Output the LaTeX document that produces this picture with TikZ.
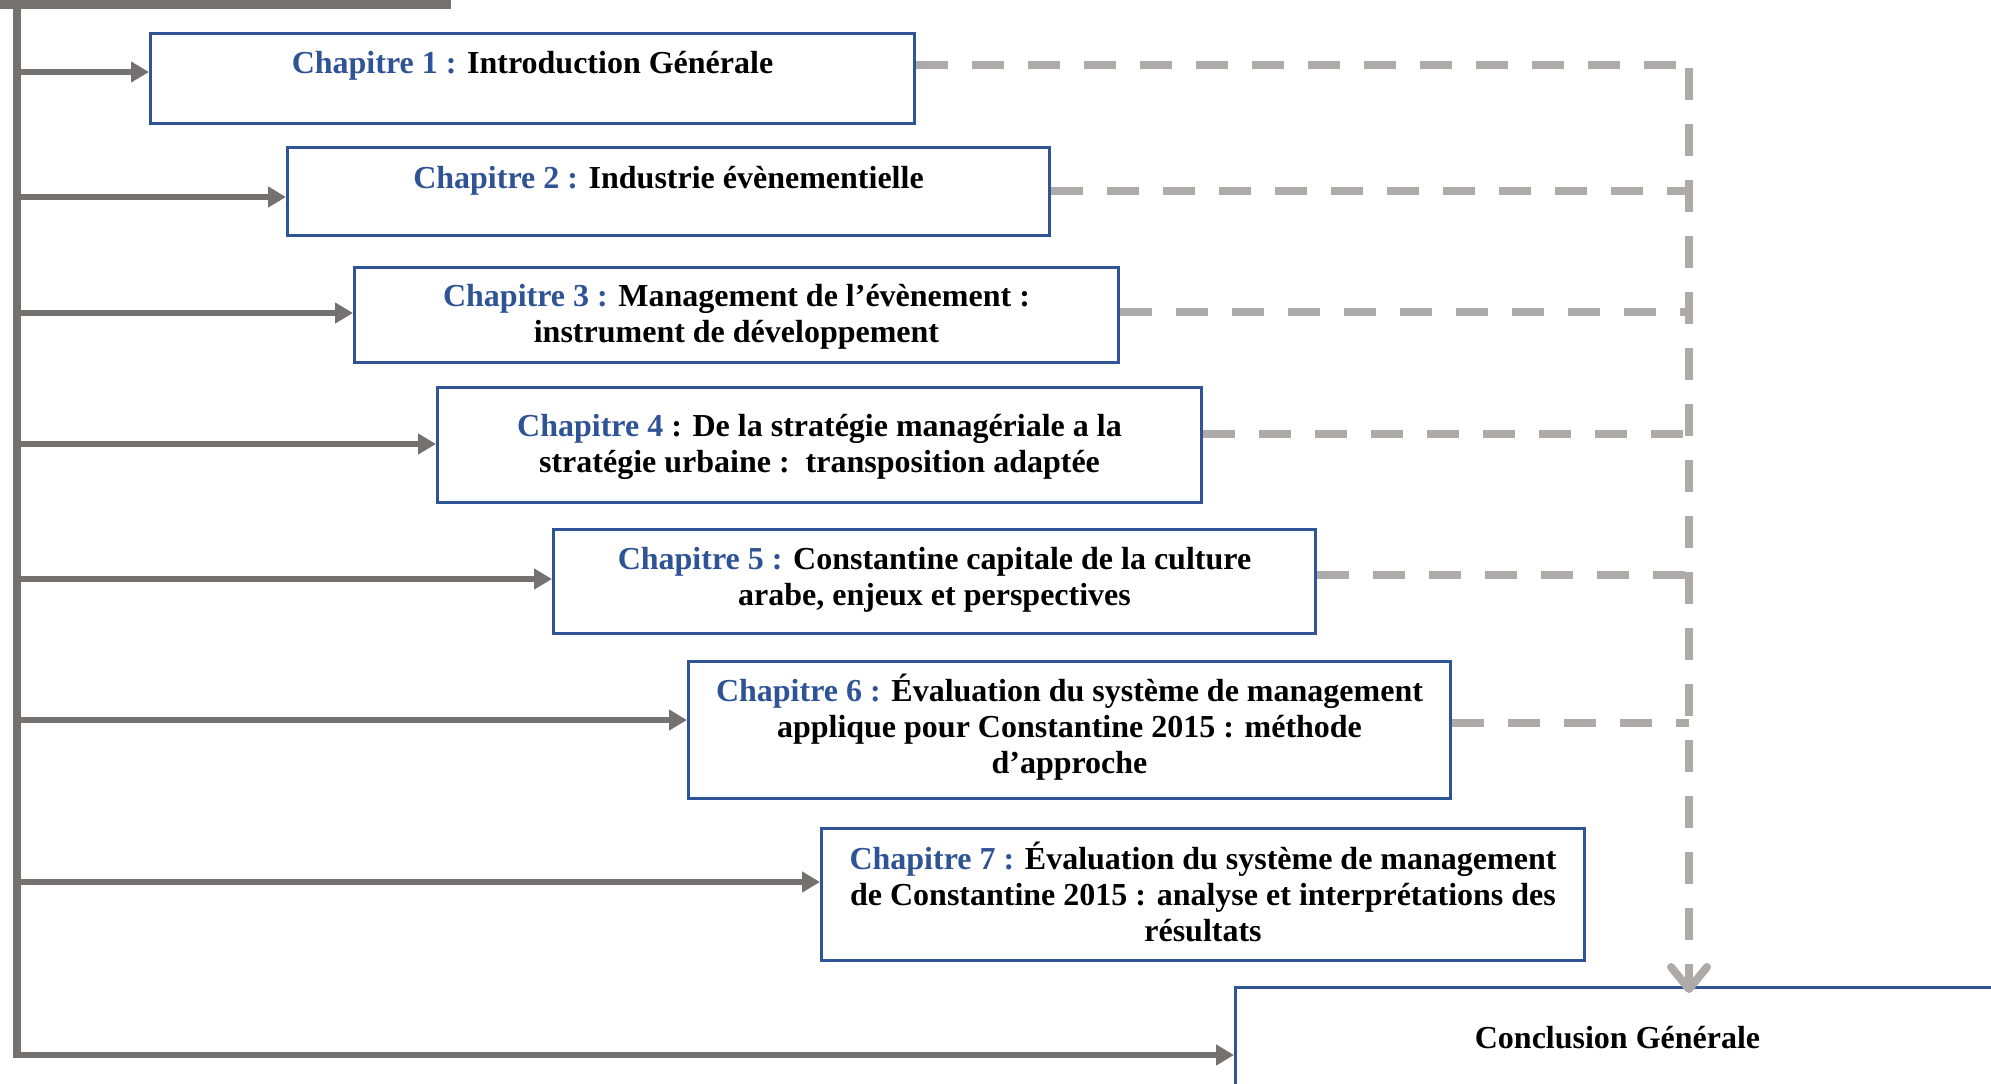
\documentclass[tikz,border=0pt]{standalone}
\usepackage{fontspec}
\setmainfont{Liberation Serif}
\usetikzlibrary{arrows.meta,calc}

\definecolor{chapblue}{RGB}{47,84,150}
\definecolor{boxblue}{RGB}{47,85,151}
\definecolor{trunkgray}{RGB}{118,113,113}
\definecolor{dashgray}{RGB}{174,170,170}

\tikzset{
  chapbox/.style={draw=boxblue, line width=1.5pt, fill=white, rectangle,
    anchor=north west, inner sep=0pt, minimum width=382pt},
  chaptext/.style={anchor=base, align=center, inner sep=0pt,
    font=\fontsize{16}{18.1}\selectfont\bfseries},
  feed/.style={draw=trunkgray, line width=3.25pt,
    -{Triangle[length=9pt,width=10pt]}},
  trunk/.style={draw=trunkgray, line width=4pt},
  back/.style={draw=dashgray, line width=4pt, dash pattern=on 16pt off 12pt},
}
\newcommand{\chap}[1]{\textcolor{chapblue}{#1}}

\begin{document}
\begin{tikzpicture}[x=0.5pt,y=-0.5pt]
  \useasboundingbox (0,0) rectangle (1991,1083);
  \clip (0,0) rectangle (1991,1083);

  % chapter boxes
  \node[chapbox, minimum height=45pt]   (b1) at (149,32)  {};
  \node[chapbox, minimum height=44pt, minimum width=381pt] (b2) at (286,146) {};
  \node[chapbox, minimum height=47.5pt] (b3) at (353,266) {};
  \node[chapbox, minimum height=57.5pt] (b4) at (436,386) {};
  \node[chapbox, minimum height=52pt, minimum width=381pt] (b5) at (552,528) {};
  \node[chapbox, minimum height=68.5pt, minimum width=381pt] (b6) at (687,660) {};
  \node[chapbox, minimum height=66pt, minimum width=381.5pt] (b7) at (820,827) {};
  \node[chapbox, minimum height=75pt]   (cg) at (1234,986) {};

  % chapter titles (the base anchor sits on the last line)
  \node[chaptext] (t1) at ([yshift=-20.5pt]b1.north)
    {\chap{Chapitre 1 :} Introduction Générale};
  \node[chaptext] (t2) at ([yshift=-21pt]b2.north)
    {\chap{Chapitre 2 :} Industrie évènementielle};
  \node[chaptext] (t3) at ([yshift=-38.3pt]b3.north)
    {\chap{Chapitre 3 :} Management de l’évènement :\\ instrument de développement};
  \node[chaptext] (t4) at ([yshift=-43.3pt]b4.north)
    {\chap{Chapitre 4} : De la stratégie managériale a la\\ stratégie urbaine :\ \ transposition adaptée};
  \node[chaptext] (t5) at ([yshift=-38.6pt]b5.north)
    {\chap{Chapitre 5 :} Constantine capitale de la culture\\ arabe, enjeux et perspectives};
  \node[chaptext] (t6) at ([yshift=-56.7pt]b6.north)
    {\chap{Chapitre 6 :} Évaluation du système de management\\ applique pour Constantine 2015 : méthode\\ d’approche};
  \node[chaptext] (t7) at ([yshift=-57.2pt]b7.north)
    {\chap{Chapitre 7 :} Évaluation du système de management\\ de Constantine 2015 : analyse et interprétations des\\ résultats};
  \node[chaptext] (tc) at ([yshift=-31pt]cg.north) {Conclusion Générale};

  % left trunk and its branches
  \coordinate (top) at (17,0);
  \coordinate (lip) at (0,4.5);
  \coordinate (lipend) at (451,4.5);
  \coordinate (f1) at (17,72);
  \coordinate (f2) at (17,197);
  \coordinate (f3) at (17,313);
  \coordinate (f4) at (17,444);
  \coordinate (f5) at (17,579);
  \coordinate (f6) at (17,720);
  \coordinate (f7) at (17,882);
  \coordinate (f8) at (17,1055);

  \draw[trunk, line width=4.5pt] (lip) -- (lipend);
  \draw[trunk] (top) -- ([yshift=-1.6pt]f8);
  \draw[feed] ([xshift=-2pt]f8) -- (f8 -| cg.west);
  \draw[feed] (f1) -- (f1 -| b1.west);
  \draw[feed] (f2) -- (f2 -| b2.west);
  \draw[feed] (f3) -- (f3 -| b3.west);
  \draw[feed] (f4) -- (f4 -| b4.west);
  \draw[feed] (f5) -- (f5 -| b5.west);
  \draw[feed] (f6) -- (f6 -| b6.west);
  \draw[feed] (f7) -- (f7 -| b7.west);

  % dashed return lines towards the conclusion
  \coordinate (r1) at (1689,65);
  \coordinate (r2) at (1689,191);
  \coordinate (r3) at (1689,312);
  \coordinate (r4) at (1689,434);
  \coordinate (r5) at (1689,575);
  \coordinate (r6) at (1689,723);
  \coordinate (rtip) at ([yshift=-3.5pt]r1 |- cg.north);

  \draw[back] (r1 -| b1.east) -- (r1);
  \draw[back] (r2 -| b2.east) -- (r2);
  \draw[back] (r3 -| b3.east) -- (r3);
  \draw[back] (r4 -| b4.east) -- (r4);
  \draw[back] (r5 -| b5.east) -- (r5);
  \draw[back] (r6 -| b6.east) -- (r6);
  \draw[back, -{Straight Barb[length=11pt,width=18pt,round]}]
    ([yshift=-1.5pt]r1) -- (rtip);
\end{tikzpicture}
\end{document}
